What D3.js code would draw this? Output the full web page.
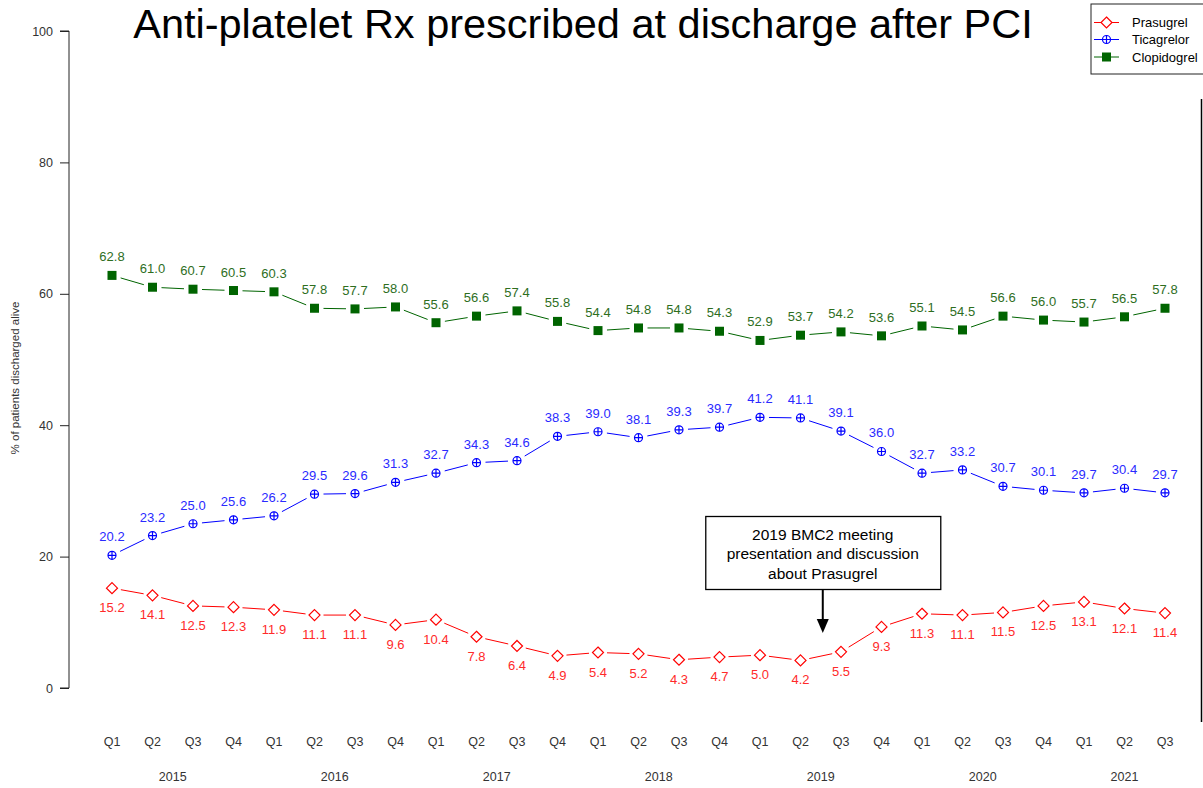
<!DOCTYPE html>
<html>
<head>
<meta charset="utf-8">
<script src="https://cdn.jsdelivr.net/npm/d3@7"></script>
<style>
html,body{margin:0;padding:0;background:#fff;}
svg{display:block;font-family:"Liberation Sans",Arial,sans-serif;}
</style>
</head>
<body>
<svg id="chart" width="1203" height="788"></svg>
<script>
const quarters = ["Q1","Q2","Q3","Q4","Q1","Q2","Q3","Q4","Q1","Q2","Q3","Q4","Q1","Q2","Q3","Q4","Q1","Q2","Q3","Q4","Q1","Q2","Q3","Q4","Q1","Q2","Q3"];
const years = ["2015","2016","2017","2018","2019","2020","2021"];
const yearOf = [0,0,0,0,1,1,1,1,2,2,2,2,3,3,3,3,4,4,4,4,5,5,5,5,6,6,6];
const prasugrel = [15.2,14.1,12.5,12.3,11.9,11.1,11.1,9.6,10.4,7.8,6.4,4.9,5.4,5.2,4.3,4.7,5.0,4.2,5.5,9.3,11.3,11.1,11.5,12.5,13.1,12.1,11.4];
const ticagrelor = [20.2,23.2,25.0,25.6,26.2,29.5,29.6,31.3,32.7,34.3,34.6,38.3,39.0,38.1,39.3,39.7,41.2,41.1,39.1,36.0,32.7,33.2,30.7,30.1,29.7,30.4,29.7];
const clopidogrel = [62.8,61.0,60.7,60.5,60.3,57.8,57.7,58.0,55.6,56.6,57.4,55.8,54.4,54.8,54.8,54.3,52.9,53.7,54.2,53.6,55.1,54.5,56.6,56.0,55.7,56.5,57.8];
const yTicks = [0,20,40,60,80,100];
const seriesNames = ["Prasugrel","Ticagrelor","Clopidogrel"];
const annotationLines = ["2019 BMC2 meeting","presentation and discussion","about Prasugrel"];
const annotationIndex = 17.55;

const svg = d3.select("#chart");
const x = d3.scaleLinear().domain([0, quarters.length-1]).range([112, 1165]);
const y = d3.scaleLinear().domain([0, 100]).range([688, 31]);

// title
svg.append("text").attr("x", 583).attr("y", 38).attr("text-anchor","middle")
  .attr("font-size", 41.5).attr("fill","#000").text("Anti-platelet Rx prescribed at discharge after PCI");

// y axis
const yAxis = d3.axisLeft(y).tickValues(yTicks).tickSize(9).tickPadding(7);
const gy = svg.append("g").attr("transform","translate(69,0)").call(yAxis);
gy.select(".domain").attr("d", `M-9,${y(100)}H0V${y(0)}H-9`).attr("stroke","#222");
gy.selectAll(".tick line").attr("stroke","#222");
gy.selectAll(".tick text").attr("font-size",12.5).attr("fill","#333").attr("font-family","Liberation Sans, Arial, sans-serif");

svg.append("text").attr("transform","translate(19,378) rotate(-90)").attr("text-anchor","middle")
  .attr("font-size",11.5).attr("fill","#333").text("% of patients discharged alive");

// x labels
svg.append("g").selectAll("text").data(quarters).join("text")
  .attr("x",(d,i)=>x(i)).attr("y",746).attr("text-anchor","middle")
  .attr("font-size",12.5).attr("fill","#333").text(d=>d);
svg.append("g").selectAll("text").data(years).join("text")
  .attr("x",(d,k)=>{const idx=d3.range(quarters.length).filter(i=>yearOf[i]===k); return x(d3.mean(idx));})
  .attr("y",781).attr("text-anchor","middle").attr("font-size",12.5).attr("fill","#333").text(d=>d);

// right border line
svg.append("line").attr("x1",1201.5).attr("x2",1201.5).attr("y1",99).attr("y2",722).attr("stroke","#000").attr("stroke-width",1.5);

function gappedSegments(vals, gap){
  const segs=[];
  for(let i=0;i<vals.length-1;i++){
    const x1=x(i),y1=y(vals[i]),x2=x(i+1),y2=y(vals[i+1]);
    const dx=x2-x1,dy=y2-y1,L=Math.hypot(dx,dy);
    if(L>2*gap) segs.push([x1+dx/L*gap,y1+dy/L*gap,x2-dx/L*gap,y2-dy/L*gap]);
  }
  return segs;
}

const series = [
  {vals: prasugrel, color:"#ff0000", label:"#ff2a2a", marker:"diamond", off: 24},
  {vals: ticagrelor, color:"#0000ff", label:"#2a2aff", marker:"circplus", off: -14},
  {vals: clopidogrel, color:"#006400", label:"#2e6e1e", marker:"square", off: -14}
];

function drawMarker(g, type, cx, cy, color){
  if(type==="diamond"){
    g.append("path").attr("d",`M${cx},${cy-5.5}L${cx+5.5},${cy}L${cx},${cy+5.5}L${cx-5.5},${cy}Z`)
      .attr("fill","#fff").attr("stroke",color).attr("stroke-width",1.2);
  } else if(type==="circplus"){
    g.append("circle").attr("cx",cx).attr("cy",cy).attr("r",4).attr("fill","none").attr("stroke",color).attr("stroke-width",1.2);
    g.append("path").attr("d",`M${cx-4},${cy}H${cx+4}M${cx},${cy-4}V${cy+4}`).attr("stroke",color).attr("stroke-width",1.2);
  } else {
    g.append("rect").attr("x",cx-4.5).attr("y",cy-4.5).attr("width",9).attr("height",9).attr("fill",color);
  }
}

series.forEach(s=>{
  const g = svg.append("g");
  g.selectAll("line").data(gappedSegments(s.vals, 9)).join("line")
    .attr("x1",d=>d[0]).attr("y1",d=>d[1]).attr("x2",d=>d[2]).attr("y2",d=>d[3])
    .attr("stroke",s.color).attr("stroke-width",1);
  s.vals.forEach((v,i)=>drawMarker(g, s.marker, x(i), y(v), s.color));
  g.selectAll("text").data(s.vals).join("text")
    .attr("x",(d,i)=>x(i)).attr("y",d=>y(d)+s.off).attr("text-anchor","middle")
    .attr("font-size",13).attr("fill",s.label).text(d=>d.toFixed(1));
});

// annotation
const ax = x(annotationIndex);
svg.append("rect").attr("x",ax-117).attr("y",516.5).attr("width",235).attr("height",73).attr("fill","#fff").attr("stroke","#000").attr("stroke-width",1.3);
svg.append("g").selectAll("text").data(annotationLines).join("text")
  .attr("x",ax).attr("y",(d,i)=>539.5+i*19.5).attr("text-anchor","middle").attr("font-size",15.5).attr("fill","#000").text(d=>d);
svg.append("line").attr("x1",ax).attr("x2",ax).attr("y1",590).attr("y2",620).attr("stroke","#000").attr("stroke-width",2);
svg.append("path").attr("d",`M${ax-6},619L${ax+6},619L${ax},633Z`).attr("fill","#000");

// legend
const lg = svg.append("g");
lg.append("rect").attr("x",1091).attr("y",4).attr("width",115).attr("height",70).attr("fill","#fff").attr("stroke","#222").attr("stroke-width",1);
seriesNames.forEach((n,k)=>{
  const ly = [22.5,39.5,57][k];
  const s = series[k];
  lg.append("line").attr("x1",1094).attr("x2",1119).attr("y1",ly).attr("y2",ly).attr("stroke",s.color).attr("stroke-width",1);
  drawMarker(lg, s.marker, 1106.5, ly, s.color);
  lg.append("text").attr("x",1132).attr("y",ly+4.5).attr("font-size",13).attr("fill","#000").text(n);
});
</script>
</body>
</html>
